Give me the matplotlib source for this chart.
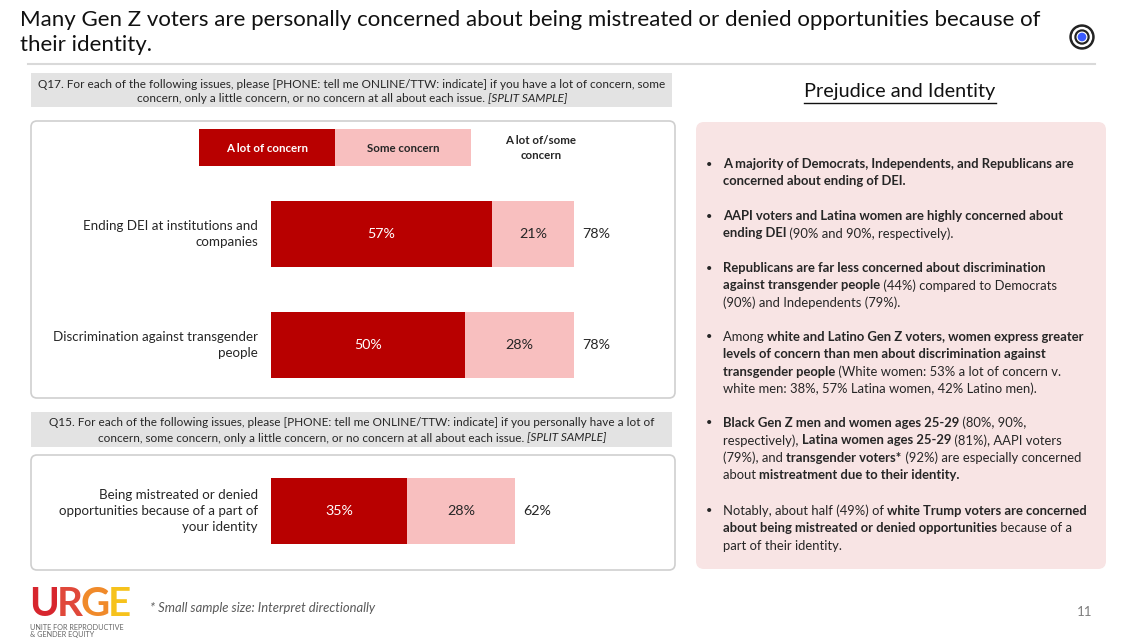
import numpy as np
import matplotlib
matplotlib.use("Agg")
import matplotlib.pyplot as plt
from matplotlib.patches import FancyBboxPatch, Rectangle, Circle

plt.rcParams['font.family'] = ['Lato', 'DejaVu Sans']

# data
q17_items = ["Ending DEI at institutions and\ncompanies",
             "Discrimination against transgender\npeople"]
q17_lot = [57, 50]
q17_some = [21, 28]
q17_total = [78, 78]

q15_items = ["Being mistreated or denied\nopportunities because of a part of\nyour identity"]
q15_lot = [35]
q15_some = [28]
q15_total = [62]

series_names = ["A lot of concern", "Some concern", "A lot of/some\nconcern"]

RED = "#B80000"
PINK = "#F8BFBF"
TXT = "#262626"

W, H = 1140, 638
fig = plt.figure(figsize=(W / 100, H / 100), dpi=100)
bg = fig.add_axes([0, 0, 1, 1])
bg.set_xlim(0, W)
bg.set_ylim(H, 0)
bg.axis("off")
fig.canvas.draw()
rend = fig.canvas.get_renderer()


def seg_width(s, size, weight="normal", style="normal"):
    t = bg.text(0, 0, "|" + s + "|", fontsize=size, fontweight=weight, fontstyle=style)
    t2 = bg.text(0, 0, "||", fontsize=size, fontweight=weight, fontstyle=style)
    w = t.get_window_extent(rend).width - t2.get_window_extent(rend).width
    t.remove()
    t2.remove()
    return w


def draw_segs(x, y, segs, size, color=TXT, ha="left"):
    # segs: list of (text, weight, style)
    widths = [seg_width(s, size, wt, st) for s, wt, st in segs]
    if ha == "center":
        x = x - sum(widths) / 2
    for (s, wt, st), w in zip(segs, widths):
        bg.text(x, y, s, fontsize=size, fontweight=wt, fontstyle=st,
                color=color, va="center", ha="left")
        x += w


# title
bg.text(20, 20, "Many Gen Z voters are personally concerned about being mistreated or denied opportunities because of",
        fontsize=16, color="#111111", va="center")
bg.text(20, 45, "their identity.", fontsize=16, color="#111111", va="center")
bg.plot([28, 1095], [64, 64], color="#D9D9D9", lw=1.5)

# target icon
for r, c in [(12, "#222222"), (9.5, "white"), (7, "#222222"), (4.8, "white"), (3.6, "#3B5BFF")]:
    bg.add_patch(Circle((1082, 37), r, color=c))

# question bands
N = "normal"
QS = 8.5
bg.add_patch(Rectangle((31, 73), 641, 34, color="#E3E3E3", lw=0))
draw_segs(352, 84, [("Q17. For each of the following issues, please [PHONE: tell me ONLINE/TTW: indicate] if you have a lot of concern, some", N, N)], QS, ha="center")
draw_segs(352, 99, [("concern, only a little concern, or no concern at all about each issue. ", N, N), ("[SPLIT SAMPLE]", N, "italic")], QS, ha="center")

bg.add_patch(Rectangle((31, 412), 641, 35, color="#E3E3E3", lw=0))
draw_segs(352, 423, [("Q15. For each of the following issues, please [PHONE: tell me ONLINE/TTW: indicate] if you personally have a lot of", N, N)], QS, ha="center")
draw_segs(352, 438, [("concern, some concern, only a little concern, or no concern at all about each issue. ", N, N), ("[SPLIT SAMPLE]", N, "italic")], QS, ha="center")

# panels
for y0, h in [(121, 277), (455, 115)]:
    bg.add_patch(FancyBboxPatch((31, y0), 644, h, boxstyle="round,pad=0,rounding_size=6",
                                fc="white", ec="#CFCFCF", lw=1.2))

# legend
bg.add_patch(Rectangle((199, 129), 136, 37, color=RED, lw=0))
bg.add_patch(Rectangle((335, 129), 136, 37, color=PINK, lw=0))
bg.text(267, 148, series_names[0], color="white", fontsize=8.3, fontweight="bold", ha="center", va="center")
bg.text(403, 148, series_names[1], color=TXT, fontsize=8.3, fontweight="bold", ha="center", va="center")
bg.text(541, 148, series_names[2], color=TXT, fontsize=8.3, fontweight="bold", ha="center", va="center",
        linespacing=1.5)

# bar charts
PX_PER_PCT = 3.88
UNIT = 111.0
BAR_H = 66 / UNIT


def bar_axes(top, bottom, first_center, items, lot, some, total):
    x0 = 271
    w = 100 * PX_PER_PCT
    ax = fig.add_axes([x0 / W, 1 - bottom / H, w / W, (bottom - top) / H])
    ax.set_xlim(0, 100)
    ax.set_ylim((bottom - first_center) / UNIT, (top - first_center) / UNIT)
    ax.axis("off")
    y = np.arange(len(items))
    lot = np.array(lot)
    some = np.array(some)
    ax.barh(y, lot, height=BAR_H, color=RED, lw=0)
    ax.barh(y, some, left=lot, height=BAR_H, color=PINK, lw=0)
    for i in y:
        ax.text(lot[i] / 2, i, f"{lot[i]}%", color="white", fontsize=10.3, ha="center", va="center")
        ax.text(lot[i] + some[i] / 2, i, f"{some[i]}%", color=TXT, fontsize=10.3, ha="center", va="center")
        ax.text(lot[i] + some[i] + 2.1, i, f"{total[i]}%", color=TXT, fontsize=10.3, ha="left", va="center",
                clip_on=False)
        ax.text(-3.4, i, items[i], color=TXT, fontsize=9.6, ha="right", va="center",
                linespacing=1.4, clip_on=False)
    return ax


bar_axes(180, 398, 234, q17_items, q17_lot, q17_some, q17_total)
bar_axes(455, 570, 511, q15_items, q15_lot, q15_some, q15_total)

# right panel
t = bg.text(900, 92, "Prejudice and Identity", fontsize=14.3, color="#111111", ha="center", va="center")
tw = t.get_window_extent(rend).width
bg.plot([900 - tw / 2, 900 + tw / 2], [102.5, 102.5], color="#111111", lw=1)

bg.add_patch(FancyBboxPatch((696, 122), 410, 447, boxstyle="round,pad=0,rounding_size=8",
                            fc="#F8E4E4", ec="none"))

B = "bold"
bullets = [
    (164, [[("A majority of Democrats, Independents, and Republicans are", B, N)],
           [("concerned about ending of DEI.", B, N)]]),
    (216, [[("AAPI voters and Latina women are highly concerned about", B, N)],
           [("ending DEI", B, N), (" (90% and 90%, respectively).", N, N)]]),
    (268, [[("Republicans are far less concerned about discrimination", B, N)],
           [("against transgender people", B, N), (" (44%) compared to Democrats", N, N)],
           [("(90%) and Independents (79%).", N, N)]]),
    (337, [[("Among ", N, N), ("white and Latino Gen Z voters, women express greater", B, N)],
           [("levels of concern than men about discrimination against", B, N)],
           [("transgender people", B, N), (" (White women: 53% a lot of concern v.", N, N)],
           [("white men: 38%, 57% Latina women, 42% Latino men).", N, N)]]),
    (423, [[("Black Gen Z men and women ages 25-29", B, N), (" (80%, 90%,", N, N)],
           [("respectively), ", N, N), ("Latina women ages 25-29", B, N), (" (81%), AAPI voters", N, N)],
           [("(79%), and ", N, N), ("transgender voters*", B, N), (" (92%) are especially concerned", N, N)],
           [("about ", N, N), ("mistreatment due to their identity.", B, N)]]),
    (511, [[("Notably, about half (49%) of ", N, N), ("white Trump voters are concerned", B, N)],
           [("about being mistreated or denied opportunities", B, N), (" because of a", N, N)],
           [("part of their identity.", N, N)]]),
]
for y0, lines in bullets:
    bg.text(709, y0, "\u2022", fontsize=8, color=TXT, va="center", ha="center")
    for k, segs in enumerate(lines):
        draw_segs(723, y0 + k * 17.3, segs, 9.4)

# footer
bg.text(150, 608, "* Small sample size: Interpret directionally", fontsize=9.4, fontstyle="italic",
        color="#595959", va="center")
bg.text(1085, 612, "11", fontsize=9.5, color="#7f7f7f", va="center", ha="center")

# logo
x = 29
for ch, c in zip("URGE", ["#D7262E", "#E0483A", "#F08A2A", "#F6C21C"]):
    tt = bg.text(x, 622.5, ch, fontsize=29, fontweight="bold", color=c, va="bottom")
    x += tt.get_window_extent(rend).width - 2
bg.text(30, 628, "UNITE FOR REPRODUCTIVE", fontsize=5.2, color="#666666", va="center")
bg.text(30, 634.5, "& GENDER EQUITY", fontsize=5.2, color="#666666", va="center")

fig.savefig("out.png", dpi=100)
